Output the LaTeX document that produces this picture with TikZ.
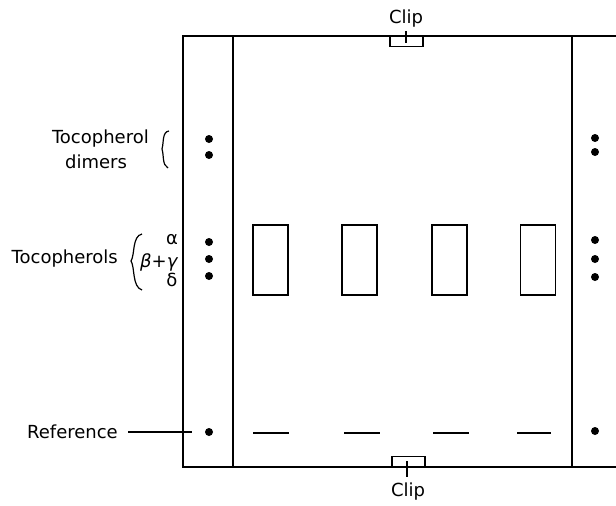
\documentclass[tikz,border=0pt]{standalone}
\usepackage{fontspec}
\setmainfont{DejaVu Sans}
\begin{document}
\begin{tikzpicture}[x=1pt,y=-1pt,
  plate/.style={line width=1.3pt},
  spot/.style={circle,fill=black,inner sep=0pt,minimum size=8pt},
  band/.style={draw,line width=1.4pt,minimum width=35pt,minimum height=70pt,inner sep=0pt},
  refband/.style={line width=1.2pt},
  lbl/.style={font=\fontsize{18}{20}\selectfont,inner sep=0pt},
  clipbox/.style={draw,line width=1.1pt,minimum width=33pt,minimum height=10pt,inner sep=0pt}]
\useasboundingbox (0,0) rectangle (616,506);
% plate outline and lane separators
\draw[plate] (616,36) -- (183,36) -- (183,467) -- (616,467);
\draw[plate] (233,36) -- (233,467);
\draw[plate] (572,36) -- (572,467);
% clips
\node[clipbox,anchor=north] (clipT) at (406.5,36) {};
\draw[line width=1.1pt] (406,31) -- (406,43);
\node[lbl] (clipTl) at (406,19) {Clip};
\node[clipbox,anchor=south] (clipB) at (408.5,467) {};
\draw[line width=1.1pt] (407,461) -- (407,477);
\node[lbl] (clipBl) at (408,492) {Clip};
% spots in the reference lanes
\foreach \y [count=\i] in {139,155,242,259,276,432}
  \node[spot] (l\i) at (209,\y) {};
\foreach \y [count=\i] in {138,152,240,259,277,431}
  \node[spot] (r\i) at (595,\y) {};
% sample bands
\foreach \x [count=\i] in {270.5,359.5,449.5,538} {
  \node[band] (b\i) at (\x,260) {};
}
\foreach \a/\b in {253/289,344/380,433/469,517/551}
  \draw[refband] (\a,433) -- (\b,433);
% labels
\node[lbl,anchor=east] (dim1) at (149,139) {Tocopherol};
\node[lbl] (dim2) at (96,162) {dimers};
\draw[line width=1.2pt] (169,131) .. controls (162,132) and (164,142) .. (162,149)
  .. controls (164,155) and (162,165) .. (168,168);
\node[lbl,anchor=east] (toc) at (118,259) {Tocopherols};
\draw[line width=1.2pt] (142,234) .. controls (132,236) and (135,255) .. (131,261)
  .. controls (135,267) and (132,287) .. (142,290);
\node[lbl,anchor=west] (bg) at (140,262) {\itshape β+γ};
\node[lbl] (al) at (172,240) {α};
\node[lbl] (de) at (172,280) {δ};
\node[lbl,anchor=east] (ref) at (118,432) {Reference};
\coordinate (refend) at (192,432);
\draw[line width=1.1pt] (128,432) -- (refend);
\end{tikzpicture}
\end{document}
